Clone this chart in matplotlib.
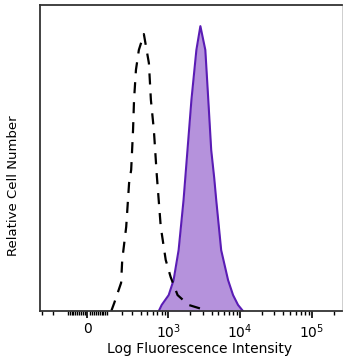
import matplotlib
matplotlib.use('Agg')
import matplotlib.pyplot as plt
import numpy as np

# control (dashed) histogram, fluorescence units vs % of max
ctrl_x = [126, 145, 195, 204, 238, 265, 286, 306, 317, 339, 375, 445,
          527, 563, 621, 684, 779, 915, 1074, 1344, 1908, 2625, 3600]
ctrl_y = [0, 2.6, 9.2, 16.7, 27.5, 41.8, 46.1, 59.2, 69.0, 78.8, 85.3, 90.5,
          81.0, 69.0, 59.2, 44.4, 27.5, 16.7, 11.1, 5.2, 2.0, 1.0, 0]

# stained (filled) histogram
stain_x = [730, 804, 1008, 1181, 1389, 1629, 1848, 2098, 2460, 2797,
           3279, 3606, 3960, 4360, 4650, 5450, 6800, 7980, 9350, 10950]
stain_y = [0, 2.0, 5.2, 10.1, 19.9, 36.3, 52.6, 69.0, 85.3, 93.1,
           85.3, 69.0, 52.6, 43.5, 36.3, 19.9, 10.1, 5.2, 2.0, 0]

major_ticks = [0, 1e3, 1e4, 1e5]
major_labels = ['0', '$10^3$', '$10^4$', '$10^5$']

W = 150.0

def fwd(x):
    return np.arcsinh(np.asarray(x) / W)

def inv(y):
    return W * np.sinh(np.asarray(y))

plt.rcParams['mathtext.default'] = 'regular'

fig = plt.figure(figsize=(3.43, 3.6), dpi=100)
ax = fig.add_axes([40/343, 1 - 311/360, 302/343, 306/360])
ax.set_xscale('function', functions=(fwd, inv))

ax.fill_between(stain_x, stain_y, color='#b592dc', lw=0)
ax.plot(stain_x, stain_y, color='#5a1cb5', lw=1.5)
ax.plot(ctrl_x, ctrl_y, color='black', lw=1.6, ls=(0, (5, 4)))

ax.set_xlim(-327, 262144)
ax.set_ylim(0, 100)

minor = list(-np.arange(100, 400, 100)) + list(np.arange(-90, 100, 10)) \
    + list(np.arange(100, 1000, 100)) + list(np.arange(2000, 10000, 1000)) \
    + list(np.arange(20000, 100000, 10000)) + [200000]
minor = [m for m in minor if m not in major_ticks]
ax.set_xticks(major_ticks)
ax.set_xticklabels(major_labels, fontsize=10)
ax.set_xticks(minor, minor=True)
ax.tick_params(axis='x', which='major', length=5, width=1.2, direction='out', pad=3)
ax.tick_params(axis='x', which='minor', length=3, width=1.0, direction='out')
ax.set_yticks([])

for s in ['left', 'bottom', 'top']:
    ax.spines[s].set_linewidth(1.3)
    ax.spines[s].set_color('#333333')
ax.spines['right'].set_linewidth(0.5)
ax.spines['right'].set_color('#bbbbbb')

ax.set_xlabel('Log Fluorescence Intensity', fontsize=10)
ax.xaxis.set_label_coords(0.527, -0.102)
ax.set_ylabel('Relative Cell Number', fontsize=9.5)
ax.yaxis.set_label_coords(-0.065, 0.41)

plt.savefig('out.png', dpi=100)
